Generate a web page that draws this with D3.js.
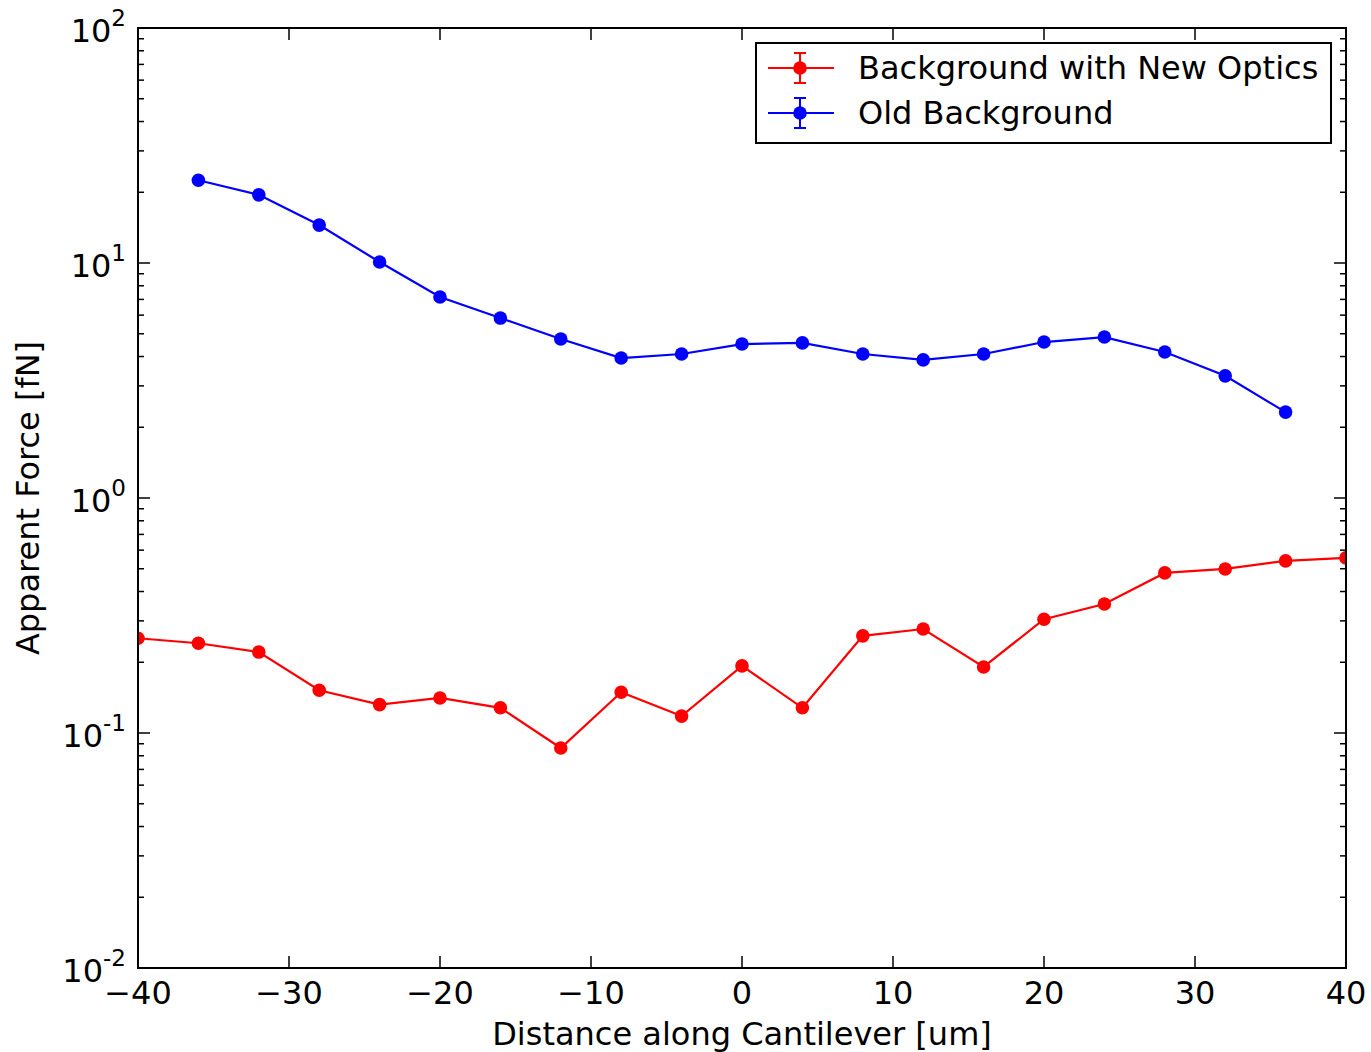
<!DOCTYPE html>
<html><head><meta charset="utf-8">
<script src="https://cdn.jsdelivr.net/npm/d3@7"></script>
<style>body{margin:0;background:#fff}svg{display:block}text{font-family:"DejaVu Sans",sans-serif;fill:#000}</style>
</head><body>
<svg id="c" width="1371" height="1052"></svg>
<script>
const xRed = [-40,-36,-32,-28,-24,-20,-16,-12,-8,-4,0,4,8,12,16,20,24,28,32,36,40];
const yRed = [0.253,0.241,0.221,0.152,0.132,0.141,0.128,0.0863,0.149,0.118,0.193,0.128,0.259,0.277,0.191,0.305,0.354,0.480,0.499,0.540,0.556];
const xBlue = [-36,-32,-28,-24,-20,-16,-12,-8,-4,0,4,8,12,16,20,24,28,32,36];
const yBlue = [22.5,19.5,14.5,10.1,7.17,5.83,4.75,3.94,4.10,4.52,4.57,4.10,3.87,4.10,4.61,4.84,4.18,3.31,2.32];
const xTicks = [-40,-30,-20,-10,0,10,20,30,40];
const yTickExp = [-2,-1,0,1,2];
const seriesNames = ["Background with New Optics","Old Background"];
const seriesColors = ["#ff0000","#0000ff"];

const L=138,R=1346,T=28,B=968;
const FS=32;
const svg=d3.select("#c");
const x=d3.scaleLinear().domain([-40,40]).range([L,R]);
const y=d3.scaleLog().domain([0.01,100]).range([B,T]);

svg.append("defs").append("clipPath").attr("id","clip").append("rect")
  .attr("x",L).attr("y",T).attr("width",R-L).attr("height",B-T);

const g=svg.append("g");
const minor=[];
for(let e=-2;e<2;e++) for(let m=2;m<=9;m++) minor.push(m*Math.pow(10,e));
const tk=g.append("g").attr("stroke","#000").attr("stroke-width",1.5);
xTicks.forEach(v=>{
  tk.append("line").attr("x1",x(v)).attr("x2",x(v)).attr("y1",B).attr("y2",B-12);
  tk.append("line").attr("x1",x(v)).attr("x2",x(v)).attr("y1",T).attr("y2",T+12);
});
yTickExp.forEach(e=>{
  const v=Math.pow(10,e);
  tk.append("line").attr("x1",L).attr("x2",L+12).attr("y1",y(v)).attr("y2",y(v));
  tk.append("line").attr("x1",R).attr("x2",R-12).attr("y1",y(v)).attr("y2",y(v));
});
minor.forEach(v=>{
  tk.append("line").attr("x1",L).attr("x2",L+6).attr("y1",y(v)).attr("y2",y(v));
  tk.append("line").attr("x1",R).attr("x2",R-6).attr("y1",y(v)).attr("y2",y(v));
});

const dg=svg.append("g").attr("clip-path","url(#clip)");
const line=d3.line().x(d=>x(d[0])).y(d=>y(d[1]));
[[xRed,yRed,seriesColors[0]],[xBlue,yBlue,seriesColors[1]]].forEach(([xs,ys,c])=>{
  const pts=xs.map((v,i)=>[v,ys[i]]);
  dg.append("path").datum(pts).attr("d",line).attr("fill","none").attr("stroke",c).attr("stroke-width",2.2);
  dg.selectAll(null).data(pts).enter().append("circle")
    .attr("cx",d=>x(d[0])).attr("cy",d=>y(d[1])).attr("r",6.8).attr("fill",c);
});

svg.append("rect").attr("x",L).attr("y",T).attr("width",R-L).attr("height",B-T)
  .attr("fill","none").attr("stroke","#000").attr("stroke-width",2);

xTicks.forEach(v=>{
  svg.append("text").attr("x",x(v)).attr("y",1004).attr("text-anchor","middle")
    .attr("font-size",FS).text(v<0?"\u2212"+Math.abs(v):String(v));
});
yTickExp.forEach(e=>{
  const t=svg.append("text").attr("x",126).attr("y",y(Math.pow(10,e))+14).attr("text-anchor","end").attr("font-size",FS);
  t.append("tspan").text("10");
  t.append("tspan").attr("dy",-16).attr("font-size",23).text(String(e));
});
svg.append("text").attr("x",(L+R)/2).attr("y",1045).attr("text-anchor","middle").attr("font-size",FS)
  .text("Distance along Cantilever [um]");
svg.append("text").attr("transform","translate(39,"+((T+B)/2)+") rotate(-90)").attr("text-anchor","middle")
  .attr("font-size",FS).text("Apparent Force [fN]");

const lg=svg.append("g");
lg.append("rect").attr("x",756).attr("y",43).attr("width",575).attr("height",100)
  .attr("fill","#fff").attr("stroke","#000").attr("stroke-width",2);
[68,113].forEach((yy,i)=>{
  const c=seriesColors[i];
  lg.append("line").attr("x1",768).attr("x2",834).attr("y1",yy).attr("y2",yy).attr("stroke",c).attr("stroke-width",2.2);
  lg.append("line").attr("x1",800).attr("x2",800).attr("y1",yy-15).attr("y2",yy+15).attr("stroke",c).attr("stroke-width",2);
  lg.append("line").attr("x1",794).attr("x2",806).attr("y1",yy-15).attr("y2",yy-15).attr("stroke",c).attr("stroke-width",2);
  lg.append("line").attr("x1",794).attr("x2",806).attr("y1",yy+15).attr("y2",yy+15).attr("stroke",c).attr("stroke-width",2);
  lg.append("circle").attr("cx",800).attr("cy",yy).attr("r",6.8).attr("fill",c);
  lg.append("text").attr("x",858).attr("y",yy+11).attr("font-size",FS).text(seriesNames[i]);
});
</script>
</body></html>
